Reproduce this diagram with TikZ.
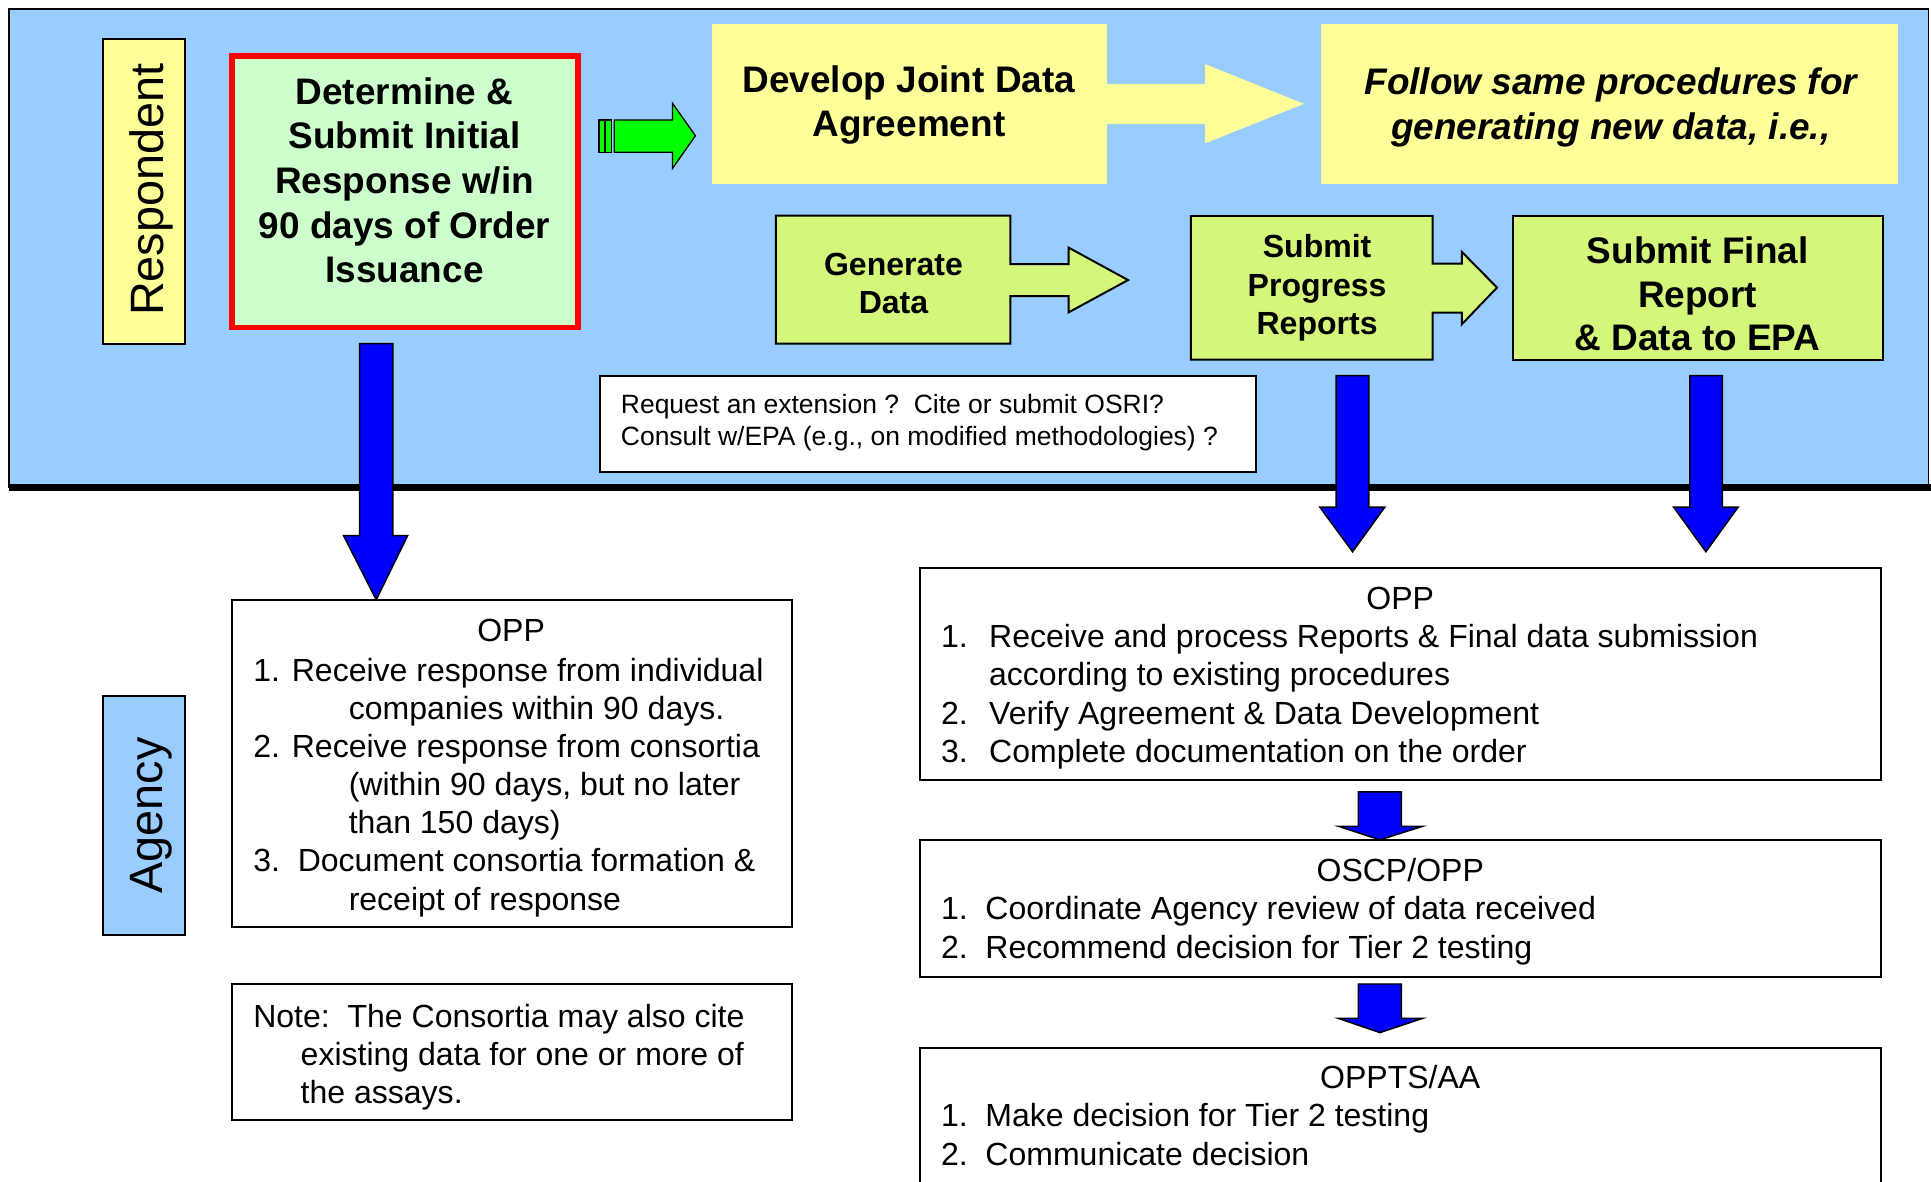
\documentclass[tikz,border=0pt]{standalone}
\usepackage{fontspec}
\setmainfont{Liberation Sans}
\definecolor{bgblue}{HTML}{99CCFF}
\definecolor{ylw}{HTML}{FFFF99}
\definecolor{lgreen}{HTML}{CCFFCC}
\definecolor{ygreen}{RGB}{212,246,122}
\definecolor{brgreen}{HTML}{00FF00}
\definecolor{arrblue}{HTML}{0000FF}
\begin{document}
\begin{tikzpicture}[x=1pt,y=-1pt,
  bdr/.style={draw=black,line width=1.6pt},
  boxat/.style={rectangle,anchor=north west,inner sep=0pt,outer sep=0pt},
  txtbig/.style={font=\fontsize{30}{36}\selectfont\bfseries,inner sep=0pt,anchor=base},
  txtmid/.style={font=\fontsize{26}{31}\selectfont\bfseries,inner sep=0pt,anchor=base},
  txtreg/.style={font=\fontsize{26}{31}\selectfont,inner sep=0pt,anchor=base west},
  txtctr/.style={font=\fontsize{26}{31}\selectfont,inner sep=0pt,anchor=base},
  txtsm/.style={font=\fontsize{21.5}{26}\selectfont,inner sep=0pt,anchor=base west},
  vert/.style={font=\fontsize{38}{44}\selectfont,rotate=90,inner sep=0pt,anchor=base},
  bluearrow/.style={fill=arrblue,draw=black,line width=1.2pt,line join=miter},
]
\useasboundingbox (0,0) rectangle (1568,959);
\fill[white] (0,0) rectangle (1568,959);

% respondent band
\fill[bgblue] (7,7) rectangle (1566,396);
\draw[line width=1.5pt] (7,396) -- (7,7) -- (1566,7) -- (1566,396);
\draw[line width=6pt] (7,396) -- (1568,396);

% boxes
\node[boxat,bdr,fill=ylw,minimum width=66pt,minimum height=247.5pt] (resp) at (84,32) {};
\node[vert] (resptxt) at (132.4,154) {Respondent};

\node[boxat,draw=red,line width=4.5pt,fill=lgreen,minimum width=280.8pt,minimum height=220.3pt] (det) at (188.6,45.5) {};
\node[txtbig] (det1) at (328.5,84.5) {Determine \&};
\node[txtbig] (det2) at (328.5,120.8) {Submit Initial};
\node[txtbig] (det3) at (328.5,157) {Response w/in};
\node[txtbig] (det4) at (328.5,193.3) {90 days of Order};
\node[txtbig] (det5) at (328.5,229.7) {Issuance};

% green arrow
\fill[brgreen,draw=black,line width=1pt] (486.4,97.4) rectangle (490.9,123.7);
\fill[brgreen,draw=black,line width=1pt] (491.7,97.4) rectangle (496.5,123.7);
\fill[brgreen,draw=black,line width=1pt,line join=miter] (498.7,97.4) -- (546.1,97.4) -- (546.1,83.9) -- (564.7,110.2) -- (546.1,136.7) -- (546.1,123.7) -- (498.7,123.7) -- cycle;

\node[boxat,fill=ylw,minimum width=320.5pt,minimum height=129.5pt] (dev) at (578,19.5) {};
\node[txtbig] (dev1) at (738,75.5) {Develop Joint Data};
\node[txtbig] (dev2) at (738,111) {Agreement};

% yellow arrow
\fill[ylw] (898,68.2) -- (978.5,68.2) -- (978.5,52) -- (1058.8,84.3) -- (978.5,116.4) -- (978.5,100.7) -- (898,100.7) -- cycle;

\node[boxat,fill=ylw,minimum width=469pt,minimum height=129.7pt] (fol) at (1072.4,19.7) {};
\node[txtbig,font=\fontsize{30}{36}\selectfont\bfseries\itshape] (fol1) at (1308,77) {Follow same procedures for};
\node[txtbig,font=\fontsize{30}{36}\selectfont\bfseries\itshape] (fol2) at (1308,113) {generating new data, i.e.,};

% generate data arrow-box
\filldraw[fill=ygreen,bdr,line join=miter] (630,175.1) -- (820.5,175.1) -- (820.5,214.4) -- (867.8,214.4) -- (867.8,201.1) -- (916,227.4) -- (867.8,253.6) -- (867.8,240.4) -- (820.5,240.4) -- (820.5,279.1) -- (630,279.1) -- cycle;
\node[txtmid] (gen1) at (725.5,223.3) {Generate};
\node[txtmid] (gen2) at (725.5,254.4) {Data};

% progress arrow-box
\filldraw[fill=ygreen,bdr,line join=miter] (967,175.4) -- (1163.3,175.4) -- (1163.3,214) -- (1187,214) -- (1187,204.5) -- (1215.6,233.5) -- (1187,263.3) -- (1187,253.8) -- (1163.3,253.8) -- (1163.3,292) -- (967,292) -- cycle;
\node[txtmid] (prg1) at (1069.5,209.4) {Submit};
\node[txtmid] (prg2) at (1069.5,240.4) {Progress};
\node[txtmid] (prg3) at (1069.5,271.7) {Reports};

\node[boxat,bdr,fill=ygreen,minimum width=300pt,minimum height=116.6pt] (fin) at (1228.7,175.4) {};
\node[txtbig] (fin1) at (1378.5,213.7) {Submit Final};
\node[txtbig] (fin2) at (1378.5,249.4) {Report};
\node[txtbig] (fin3) at (1378.5,285) {\& Data to EPA};

\node[boxat,bdr,fill=white,minimum width=532.8pt,minimum height=78.3pt] (req) at (487.2,305) {};
\node[txtsm] (req1) at (504,335.6) {Request an extension ?\ \ Cite or submit OSRI?};
\node[txtsm] (req2) at (504,361.4) {Consult w/EPA (e.g., on modified methodologies) ?};

% agency
\node[boxat,bdr,fill=bgblue,minimum width=66pt,minimum height=194.5pt] (agency) at (84,565) {};
\node[vert] (agtxt) at (132,662) {Agency};

\node[boxat,bdr,fill=white,minimum width=455pt,minimum height=266pt] (oppl) at (188,487) {};
\node[txtctr] (oppl0) at (415,521) {OPP};
\node[txtreg] (oppl1) at (205.5,553) {1. Receive response from individual};
\node[txtreg] (oppl2) at (283,584) {companies within 90 days.};
\node[txtreg] (oppl3) at (205.5,615) {2. Receive response from consortia};
\node[txtreg] (oppl4) at (283,646) {(within 90 days, but no later};
\node[txtreg] (oppl5) at (283,677) {than 150 days)};
\node[txtreg] (oppl6) at (205.5,708) {3.\ \ Document consortia formation \&};
\node[txtreg] (oppl7) at (283,739) {receipt of response};

\node[boxat,bdr,fill=white,minimum width=455pt,minimum height=110.5pt] (note) at (188,799) {};
\node[txtreg] (note1) at (205.5,834) {Note:\ \ The Consortia may also cite};
\node[txtreg] (note2) at (244,865) {existing data for one or more of};
\node[txtreg] (note3) at (244,896) {the assays.};

\node[boxat,bdr,fill=white,minimum width=780pt,minimum height=172.5pt] (oppr) at (747,461) {};
\node[txtctr] (oppr0) at (1137,495) {OPP};
\node[txtreg] (oppr1) at (764,526) {\makebox[39pt][l]{1.}Receive and process Reports \& Final data submission};
\node[txtreg] (oppr2) at (803,557) {according to existing procedures};
\node[txtreg] (oppr3) at (764,588) {\makebox[39pt][l]{2.}Verify Agreement \& Data Development};
\node[txtreg] (oppr4) at (764,619) {\makebox[39pt][l]{3.}Complete documentation on the order};

\node[boxat,bdr,fill=white,minimum width=780pt,minimum height=111pt] (oscp) at (747,682) {};
\node[txtctr] (oscp0) at (1137,716) {OSCP/OPP};
\node[txtreg] (oscp1) at (764,746.5) {\makebox[36pt][l]{1.}Coordinate Agency review of data received};
\node[txtreg] (oscp2) at (764,778) {\makebox[36pt][l]{2.}Recommend decision for Tier 2 testing};

\node[boxat,bdr,fill=white,minimum width=780pt,minimum height=130pt] (oppts) at (747,851) {};
\node[txtctr] (oppts0) at (1137,884) {OPPTS/AA};
\node[txtreg] (oppts1) at (764,914.5) {\makebox[36pt][l]{1.}Make decision for Tier 2 testing};
\node[txtreg] (oppts2) at (764,946) {\makebox[36pt][l]{2.}Communicate decision};

% blue block arrows
\draw[bluearrow] (292,279) -- (319,279) -- (319,435) -- (331,435) -- (305.5,487) -- (279,435) -- (292,435) -- cycle;
\draw[bluearrow] (1085,305) -- (1111.6,305) -- (1111.6,411.8) -- (1124.5,411.8) -- (1098.3,448) -- (1071.7,411.8) -- (1085,411.8) -- cycle;
\draw[bluearrow] (1372.2,305) -- (1398.5,305) -- (1398.5,411.8) -- (1411.4,411.8) -- (1385.2,448) -- (1359,411.8) -- (1372.2,411.8) -- cycle;
\draw[bluearrow] (1103,643) -- (1138,643) -- (1138,671) -- (1155,671) -- (1120.5,682) -- (1087,671) -- (1103,671) -- cycle;
\draw[bluearrow] (1103,799) -- (1138,799) -- (1138,827) -- (1155,827) -- (1120.5,838.5) -- (1087,827) -- (1103,827) -- cycle;
\end{tikzpicture}
\end{document}
